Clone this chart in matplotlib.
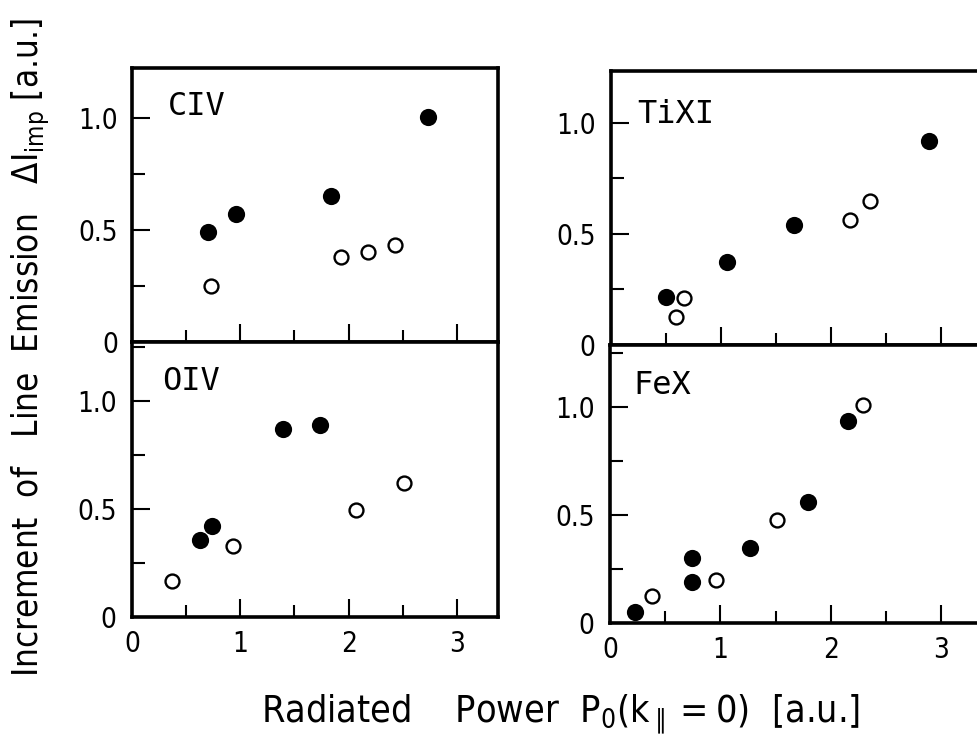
import matplotlib
matplotlib.use("Agg")
import matplotlib.pyplot as plt
from matplotlib.ticker import MultipleLocator

# ---- data ----
civ_filled_x = [0.70, 0.96, 1.84, 2.73]
civ_filled_y = [0.49, 0.57, 0.65, 1.005]
civ_open_x = [0.73, 1.93, 2.18, 2.43]
civ_open_y = [0.25, 0.38, 0.40, 0.435]

tixi_filled_x = [0.50, 1.05, 1.66, 2.885]
tixi_filled_y = [0.215, 0.375, 0.54, 0.92]
tixi_open_x = [0.66, 0.59, 2.17, 2.355]
tixi_open_y = [0.21, 0.125, 0.565, 0.65]

oiv_filled_x = [0.63, 0.735, 1.39, 1.74]
oiv_filled_y = [0.355, 0.42, 0.87, 0.89]
oiv_open_x = [0.37, 0.93, 2.07, 2.51]
oiv_open_y = [0.167, 0.33, 0.495, 0.62]

fex_filled_x = [0.23, 0.74, 0.74, 1.27, 1.79, 2.16]
fex_filled_y = [0.052, 0.30, 0.19, 0.345, 0.56, 0.935]
fex_open_x = [0.38, 0.96, 1.51, 2.29]
fex_open_y = [0.125, 0.20, 0.475, 1.01]

panel_names = ["CIV", "TiXI", "OIV", "FeX"]
x_ticks = [0, 1, 2, 3]
x_ticklabels = ["0", "1", "2", "3"]
y_ticks = [0, 0.5, 1.0]
y_ticklabels = ["0", "0.5", "1.0"]

xlabel = r"Radiated    Power  $\mathregular{P_0(k_{\parallel}=0)}$  [a.u.]"
ylabel = r"Increment  of   Line  Emission   $\mathregular{\Delta I_{imp}}$ [a.u.]"

# ---- style ----
label_font = ["DejaVu Sans"]

W, H = 977, 738
fig = plt.figure(figsize=(W / 100, H / 100), dpi=100)


def ax_at(left, right, top, bottom):
    return fig.add_axes([left / W, 1 - bottom / H, (right - left) / W, (bottom - top) / H])


panels = [
    dict(box=(132, 498, 68, 342), ylim=1.223, xlim=3.38, data=(civ_filled_x, civ_filled_y, civ_open_x, civ_open_y),
         name=panel_names[0], txt=(0.33, 1.12), bottom=False, pad_y=10),
    dict(box=(611, 983, 71, 345), ylim=1.234, xlim=3.38, data=(tixi_filled_x, tixi_filled_y, tixi_open_x, tixi_open_y),
         name=panel_names[1], txt=(0.24, 1.11), bottom=False, pad_y=11),
    dict(box=(132, 498, 342, 617), ylim=1.273, xlim=3.38, data=(oiv_filled_x, oiv_filled_y, oiv_open_x, oiv_open_y),
         name=panel_names[2], txt=(0.28, 1.16), bottom=True, pad_y=11),
    dict(box=(610, 983, 345, 623), ylim=1.287, xlim=3.38, data=(fex_filled_x, fex_filled_y, fex_open_x, fex_open_y),
         name=panel_names[3], txt=(0.21, 1.17), bottom=True, pad_y=11),
]

for p in panels:
    ax = ax_at(*p["box"])
    fx, fy, ox, oy = p["data"]
    ax.plot(fx, fy, "o", ms=12.4, mfc="black", mec="black", mew=0, clip_on=False, zorder=3)
    ax.plot(ox, oy, "o", ms=10, mfc="white", mec="black", mew=1.7, clip_on=False, zorder=3)
    ax.set_xlim(0, p["xlim"])
    ax.set_ylim(0, p["ylim"])
    for s in ax.spines.values():
        s.set_linewidth(2.6)
    ax.xaxis.set_major_locator(MultipleLocator(1))
    ax.xaxis.set_minor_locator(MultipleLocator(0.5))
    ax.yaxis.set_major_locator(MultipleLocator(0.5))
    ax.yaxis.set_minor_locator(MultipleLocator(0.25))
    ax.set_yticks(y_ticks)
    ax.set_yticklabels(y_ticklabels)
    ax.tick_params(which="both", direction="in", top=False, right=False, width=1.5)
    ax.tick_params(which="major", length=13)
    ax.tick_params(which="minor", length=9)
    ax.tick_params(axis="y", labelsize=20, pad=p["pad_y"])
    for lab in ax.get_yticklabels():
        lab.set_fontstretch("condensed")
    if p["bottom"]:
        ax.set_xticks(x_ticks)
        ax.set_xticklabels(x_ticklabels)
        ax.tick_params(axis="x", labelsize=20, pad=9)
        for lab in ax.get_xticklabels():
            lab.set_fontstretch("condensed")
    else:
        ax.tick_params(axis="x", labelbottom=False)
    ax.text(p["txt"][0], p["txt"][1], p["name"], family=["DejaVu Sans Mono"], fontsize=23,
            va="top", ha="left")

fig.text(561 / W, 1 - 722 / H, xlabel, family=label_font, fontsize=27, fontstretch="condensed",
         ha="center", va="baseline")
fig.text(31 / W, 1 - 347 / H, ylabel, family=label_font, fontsize=25, fontstretch="condensed",
         ha="center", va="center", rotation=90)

fig.savefig("out.png", dpi=100)
